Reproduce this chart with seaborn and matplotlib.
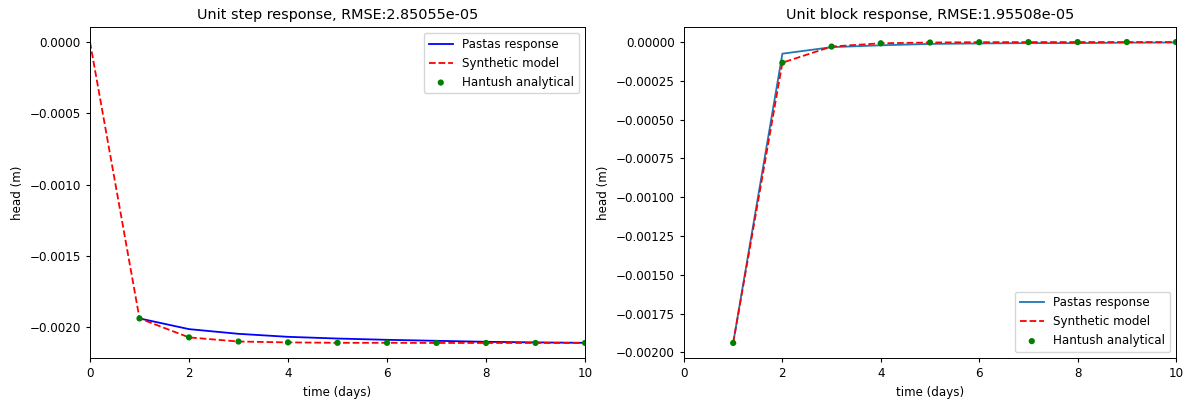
import matplotlib
matplotlib.use("Agg")
import matplotlib.pyplot as plt
import matplotlib.ticker as mticker
import seaborn as sns

# Time axis (days)
t_model = [0, 1, 2, 3, 4, 5, 6, 7, 8, 9, 10]
t_resp = [1, 2, 3, 4, 5, 6, 7, 8, 9, 10]

# Unit step response (m)
step_pastas = [-0.001939, -0.002014, -0.002047, -0.002068, -0.002080,
               -0.002089, -0.002096, -0.002103, -0.002107, -0.002110]
step_synth = [0.0, -0.001939, -0.002072, -0.002101, -0.002107, -0.002110,
              -0.002110, -0.002111, -0.002111, -0.002111, -0.002111]
step_hantush = [-0.001939, -0.002072, -0.002101, -0.002107, -0.002110,
                -0.002110, -0.002111, -0.002111, -0.002111, -0.002111]

# Unit block response (m)
block_pastas = [-0.001939, -0.000075, -0.000033, -0.000021, -0.000012,
                -0.000009, -0.000007, -0.000007, -0.000004, -0.000003]
block_synth = [-0.001939, -0.000133, -0.000029, -0.000008, -0.000003,
               -0.000001, -0.0000005, -0.0000002, -0.0000001, 0.0]
block_hantush = block_synth

step_rmse = "2.85055e-05"
block_rmse = "1.95508e-05"

FS = 8.6
plt.rcParams.update({
    "font.size": FS,
    "xtick.labelsize": FS,
    "ytick.labelsize": FS,
    "axes.labelsize": FS,
    "legend.fontsize": FS,
    "xtick.major.size": 3.0,
    "ytick.major.size": 3.0,
    "axes.linewidth": 0.7,
})

fig = plt.figure(figsize=(11.92, 4.0), dpi=100)
ax1 = fig.add_axes([0.0755, 0.105, 0.4153, 0.8275])
ax2 = fig.add_axes([0.5738, 0.105, 0.4128, 0.8275])


def draw(ax, t_p, pastas, t_s, synth, t_h, hantush, pastas_color, title, loc):
    sns.lineplot(x=t_p, y=pastas, ax=ax, color=pastas_color, lw=1.3,
                 label="Pastas response")
    sns.lineplot(x=t_s, y=synth, ax=ax, color="red", lw=1.3,
                 label="Synthetic model")
    ax.lines[-1].set_linestyle((0, (3.7, 1.6)))
    sns.scatterplot(x=t_h, y=hantush, ax=ax, color="green", s=20,
                    edgecolor="none", label="Hantush analytical", zorder=3)
    ax.set_xlim(0, 10)
    ax.set_xticks([0, 2, 4, 6, 8, 10])
    ax.set_xlabel("time (days)")
    ax.set_ylabel("head (m)")
    ax.set_title(title, fontsize=10.4)
    leg = ax.legend(loc=loc, scatterpoints=1)
    leg.get_lines()[1].set_linestyle((0, (3.7, 1.6)))


draw(ax1, t_resp, step_pastas, t_model, step_synth, t_resp, step_hantush,
     "blue", "Unit step response, RMSE:" + step_rmse, "upper right")
draw(ax2, t_resp, block_pastas, t_resp, block_synth, t_resp, block_hantush,
     "#1f77b4", "Unit block response, RMSE:" + block_rmse, "lower right")

ax1.set_yticks([0.0, -0.0005, -0.0010, -0.0015, -0.0020])
ax2.set_yticks([0.0, -0.00025, -0.0005, -0.00075, -0.0010, -0.00125,
                -0.0015, -0.00175, -0.0020])

for ax, fmt, zero in ((ax1, "%.4f", "0.0000"), (ax2, "%.5f", "0.00000")):
    ax.yaxis.set_major_formatter(mticker.FuncFormatter(
        lambda v, p, fmt=fmt, zero=zero: zero if abs(v) < 1e-12
        else (fmt % v).replace("-", "\u2212")))

fig.savefig("out.png", dpi=100)
